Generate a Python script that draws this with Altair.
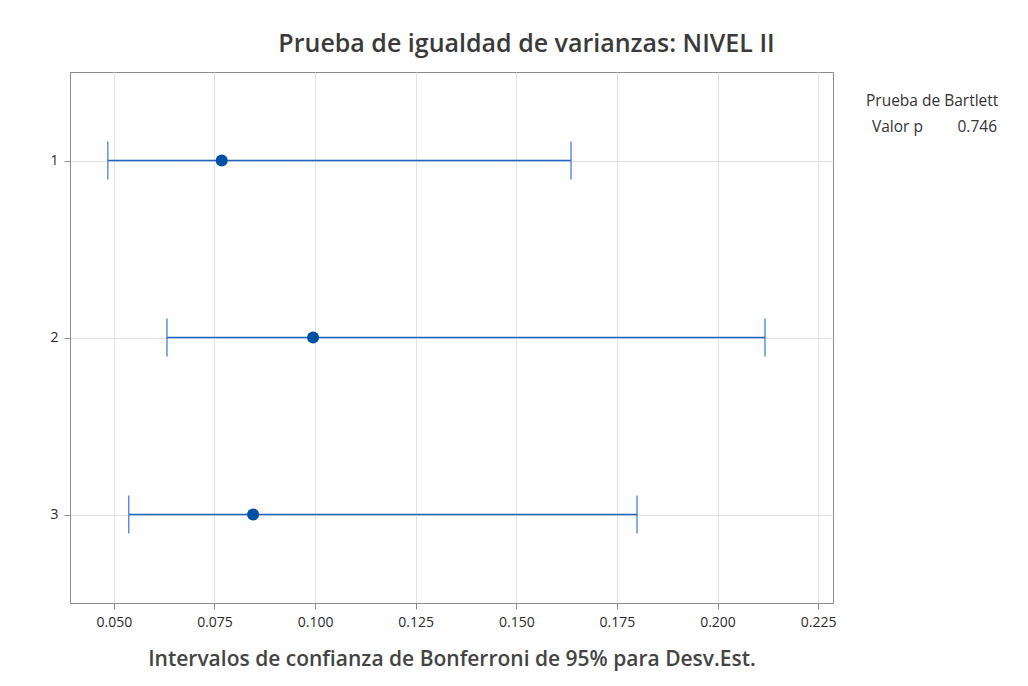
import altair as alt
import pandas as pd

groups = [1, 2, 3]
lower = [0.0485, 0.0632, 0.0537]
stdev = [0.0768, 0.0995, 0.0846]
upper = [0.1636, 0.2118, 0.1800]
x_ticks = [0.050, 0.075, 0.100, 0.125, 0.150, 0.175, 0.200, 0.225]
p_value = "0.746"

df = pd.DataFrame({"grupo": groups, "lo": lower, "sd": stdev, "hi": upper})

FONT = "Open Sans"
BLUE_LINE = "#1f64c0"
BLUE_DOT = "#0050a4"

x_enc = alt.X("lo:Q", scale=alt.Scale(domain=[0.0391, 0.2287], nice=False, zero=False),
              axis=alt.Axis(values=x_ticks, format=".3f",
                            title="Intervalos de confianza de Bonferroni de 95% para Desv.Est."))
y_enc = alt.Y("grupo:Q", scale=alt.Scale(domain=[0.5, 3.5], reverse=True, nice=False, zero=False),
              axis=alt.Axis(values=groups, format="d", title=None))

base = alt.Chart(df)

rule = base.mark_rule(color=BLUE_LINE, strokeWidth=1.5).encode(x=x_enc, x2="hi:Q", y=y_enc)
cap_lo = base.mark_tick(color=BLUE_LINE, orient="vertical", size=38, thickness=1.5).encode(x="lo:Q", y="grupo:Q")
cap_hi = base.mark_tick(color=BLUE_LINE, orient="vertical", size=38, thickness=1.5).encode(x="hi:Q", y="grupo:Q")
dots = base.mark_circle(color=BLUE_DOT, size=145, opacity=1).encode(x="sd:Q", y="grupo:Q")

legend_df = pd.DataFrame({"t": ["Prueba de Bartlett"]})
leg1 = alt.Chart(legend_df).mark_text(font=FONT, fontSize=15.5, color="#333333", align="left",
                                       baseline="middle").encode(
    x=alt.value(796), y=alt.value(29), text="t:N")
leg2 = alt.Chart(pd.DataFrame({"t": ["Valor p"]})).mark_text(font=FONT, fontSize=15.5, color="#333333",
                                                               align="left", baseline="middle").encode(
    x=alt.value(802), y=alt.value(55), text="t:N")
leg3 = alt.Chart(pd.DataFrame({"t": [p_value]})).mark_text(font=FONT, fontSize=15.5, color="#333333",
                                                             align="right", baseline="middle").encode(
    x=alt.value(927), y=alt.value(55), text="t:N")

chart = alt.layer(rule, cap_lo, cap_hi, dots, leg1, leg2, leg3).properties(
    width=763, height=531,
    title=alt.TitleParams("Prueba de igualdad de varianzas: NIVEL II", font=FONT, fontSize=25,
                          fontWeight=600, color="#3a3a3a", anchor="middle", dx=75, offset=15),
    autosize=alt.AutoSizeParams(type="none"),
    padding={"left": 62, "top": 64, "right": 180, "bottom": 70},
    background="white",
).configure_view(
    stroke="#8c8c8c", strokeWidth=1
).configure_axis(
    domainColor="#8c8c8c", tickColor="#8c8c8c", gridColor="#e3e3e3", grid=True,
    labelFont=FONT, labelFontSize=14, labelColor="#2a2a2a", tickSize=6,
    titleFont=FONT, titleFontSize=21, titleFontWeight=600, titleColor="#444444",
).configure_axisX(
    labelPadding=6, titlePadding=19
).configure_axisY(
    labelPadding=6
)

chart.save("out.html", embed_options={"renderer": "svg", "actions": False})
